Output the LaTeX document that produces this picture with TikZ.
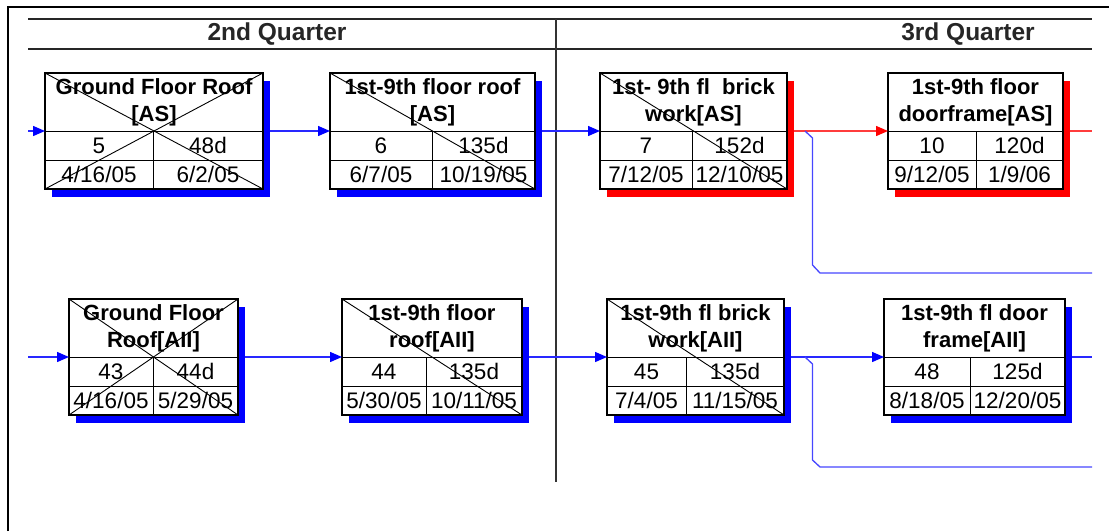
\documentclass[tikz,border=0pt]{standalone}
\usepackage{fontspec}
\setmainfont{Liberation Sans}
\usetikzlibrary{arrows.meta,fit,calc}
\definecolor{pblue}{RGB}{0,0,255}
\definecolor{pred}{RGB}{255,0,0}
\definecolor{lblue}{RGB}{40,40,255}
\definecolor{lred}{RGB}{255,60,60}
\definecolor{bblue}{RGB}{70,70,255}
\tikzset{
  frameline/.style={line width=2pt, black},
  hdrline/.style={line width=1.8pt, black!85},
  divline/.style={line width=1.5pt, black!80},
  hdrtext/.style={font=\fontsize{24.5}{28}\selectfont\bfseries, inner sep=0pt, text=black!85},
  pbox/.style={draw=black, line width=1.5pt, fill=white, inner sep=0pt, outer sep=0pt},
  cellline/.style={line width=1pt, black},
  xline/.style={line width=0.9pt, black},
  ttl/.style={font=\fontsize{22}{27}\selectfont\bfseries, align=center, inner sep=0pt},
  num/.style={font=\fontsize{22.5}{27}\selectfont, inner sep=0pt},
  bconn/.style={line width=1.4pt, lblue, -{Triangle[length=12pt,width=10pt,fill=pblue,color=pblue]}},
  rconn/.style={line width=1.4pt, lred, -{Triangle[length=12pt,width=10pt,fill=pred,color=pred]}},
  bline/.style={line width=1.4pt, lblue},
  rline/.style={line width=1.4pt, lred},
  brline/.style={line width=1.3pt, bblue},
}
\newcommand\pertA[7]{\def\pname{#1}\def\pxa{#2}\def\pxb{#3}\def\pxd{#4}\def\pyt{#5}\def\pcol{#6}\def\ptitle{#7}\pertB}
\newcommand\pertB[4]{%
  \fill[\pcol] (\pxa+6.5,\pyt+7.5) rectangle (\pxb+6.5,\pyt+123.5);
  \coordinate (\pname-nw) at (\pxa,\pyt);
  \coordinate (\pname-se) at (\pxb,\pyt+116);
  \node[pbox, fit=(\pname-nw)(\pname-se)] (\pname) {};
  \draw[cellline] (\pxa,\pyt+58) -- (\pxb,\pyt+58);
  \draw[cellline] (\pxa,\pyt+87) -- (\pxb,\pyt+87);
  \draw[cellline] (\pxd,\pyt+58) -- (\pxd,\pyt+116);
  \node[ttl] (\pname-t) at ({(\pxa+\pxb)/2},\pyt+29) {\ptitle};
  \node[num] (\pname-id) at ({(\pxa+\pxd)/2},\pyt+72.5) {#1};
  \node[num] (\pname-du) at ({(\pxd+\pxb)/2},\pyt+72.5) {#2};
  \node[num] (\pname-st) at ({(\pxa+\pxd)/2},\pyt+101.5) {#3};
  \node[num] (\pname-fi) at ({(\pxd+\pxb)/2},\pyt+101.5) {#4};
}
\begin{document}
\begin{tikzpicture}[x=1pt,y=-1pt]
\useasboundingbox (0,0) rectangle (1109,531);
% frame and timescale
\draw[frameline] (8,531) -- (8,7) -- (1109,7);
\draw[hdrline] (28,19) -- (1092,19);
\draw[hdrline] (28,49) -- (1092,49);
\draw[divline] (556,19) -- (556,482);
\node[hdrtext] (q2) at (277,34) {2nd Quarter};
\node[hdrtext] (q3) at (968,34) {3rd Quarter};
% top row
\pertA{n1}{45}{263}{153}{73}{pblue}{Ground Floor Roof\\{[AS]}}{5}{48d}{4/16/05}{6/2/05}
\pertA{n2}{330}{535}{432}{73}{pblue}{1st-9th floor roof\\{[AS]}}{6}{135d}{6/7/05}{10/19/05}
\pertA{n3}{600}{787}{692}{73}{pred}{1st- 9th fl\ \ brick\\work[AS]}{7}{152d}{7/12/05}{12/10/05}
\pertA{n4}{888}{1063}{976}{73}{pred}{1st-9th floor\\doorframe[AS]}{10}{120d}{9/12/05}{1/9/06}
% bottom row
\pertA{n5}{69}{238}{153}{299}{pblue}{Ground Floor\\Roof[AII]}{43}{44d}{4/16/05}{5/29/05}
\pertA{n6}{342}{522}{426}{299}{pblue}{1st-9th floor\\roof[AII]}{44}{135d}{5/30/05}{10/11/05}
\pertA{n7}{607}{784}{686}{299}{pblue}{1st-9th fl brick\\work[AII]}{45}{135d}{7/4/05}{11/15/05}
\pertA{n8}{884}{1065}{970}{299}{pblue}{1st-9th fl door\\frame[AII]}{48}{125d}{8/18/05}{12/20/05}
% cross marks
\draw[xline] (n1.north west) -- (n1.south east);
\draw[xline] (n1.north east) -- (n1.south west);
\draw[xline] (n2.north west) -- (n2.south east);
\draw[xline] (n3.north west) -- (n3.south east);
\draw[xline] (n5.north west) -- (n5.south east);
\draw[xline] (n5.north east) -- (n5.south west);
\draw[xline] (n6.north west) -- (n6.south east);
\draw[xline] (n7.north west) -- (n7.south east);
% connectors top row
\coordinate (inA) at (28,131);
\coordinate (outA) at (1092,131);
\coordinate (outA2) at (1092,273);
\draw[bconn] (inA) -- (n1.west);
\draw[bconn] ([xshift=6.5pt]n1.east) -- (n2.west);
\draw[bconn] ([xshift=6.5pt]n2.east) -- (n3.west);
\draw[rconn] ([xshift=6.5pt]n3.east) -- (n4.west);
\draw[rline] ([xshift=6.5pt]n4.east) -- (outA);
\draw[brline] ([xshift=18pt]n3.east) -- ++(7.5,7) -- ++(0,127) -- ++(7.5,8) -- (outA2);
% connectors bottom row
\coordinate (inB) at (28,357);
\coordinate (outB) at (1092,357);
\coordinate (outB2) at (1092,467);
\draw[bconn] (inB) -- (n5.west);
\draw[bconn] ([xshift=6.5pt]n5.east) -- (n6.west);
\draw[bconn] ([xshift=6.5pt]n6.east) -- (n7.west);
\draw[bconn] ([xshift=6.5pt]n7.east) -- (n8.west);
\draw[bline] ([xshift=6.5pt]n8.east) -- (outB);
\draw[brline] ([xshift=21pt]n7.east) -- ++(7.5,7) -- ++(0,96) -- ++(7.5,7) -- (outB2);
\end{tikzpicture}
\end{document}
